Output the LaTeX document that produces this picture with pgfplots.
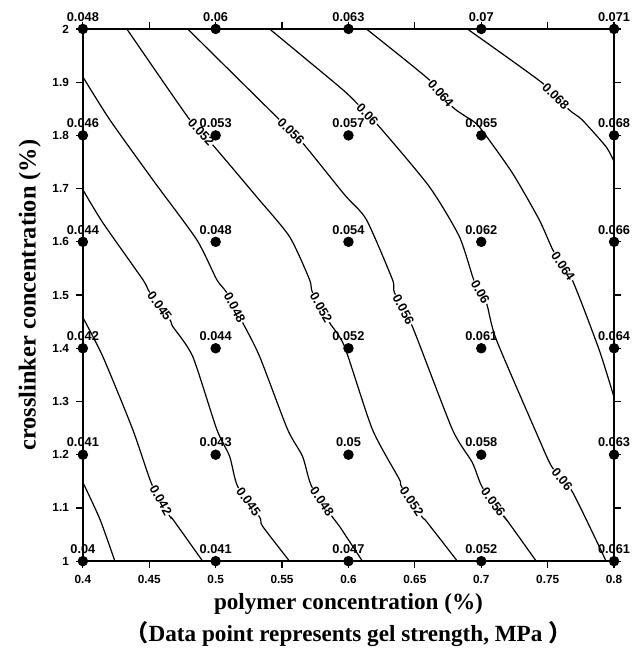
\documentclass[border=0pt]{standalone}
\usepackage{fontspec}
\setmainfont{Liberation Serif}
\setsansfont{Liberation Sans}
\newfontfamily\cjk{Noto Sans CJK SC}
\usepackage{pgfplots}
\pgfplotsset{compat=1.18}
\newcommand{\tickfont}{\sffamily\bfseries\fontsize{5.9}{6}\selectfont}
\newcommand{\lblfont}{\sffamily\bfseries\fontsize{6.4}{7}\selectfont}
\newcommand{\axfont}{\bfseries\fontsize{11.6}{13}\selectfont}
\newcommand{\yaxfont}{\bfseries\fontsize{12.2}{13}\selectfont}

\pgfplotstableread{
x y label
0.4 2.0 0.048
0.5 2.0 0.06
0.6 2.0 0.063
0.7 2.0 0.07
0.8 2.0 0.071
0.4 1.8 0.046
0.5 1.8 0.053
0.6 1.8 0.057
0.7 1.8 0.065
0.8 1.8 0.068
0.4 1.6 0.044
0.5 1.6 0.048
0.6 1.6 0.054
0.7 1.6 0.062
0.8 1.6 0.066
0.4 1.4 0.042
0.5 1.4 0.044
0.6 1.4 0.052
0.7 1.4 0.061
0.8 1.4 0.064
0.4 1.2 0.041
0.5 1.2 0.043
0.6 1.2 0.05
0.7 1.2 0.058
0.8 1.2 0.063
0.4 1.0 0.04
0.5 1.0 0.041
0.6 1.0 0.047
0.7 1.0 0.052
0.8 1.0 0.061
}\gelpoints

\begin{document}
\begin{tikzpicture}
\begin{axis}[name=ax, scale only axis, width=266pt, height=266.5pt,
  xmin=0.4, xmax=0.8, ymin=1, ymax=2,
  xtick={0.4,0.45,0.5,0.55,0.6,0.65,0.7,0.75,0.8},
  xticklabels={0.4,0.45,0.5,0.55,0.6,0.65,0.7,0.75,0.8},
  ytick={1,1.1,1.2,1.3,1.4,1.5,1.6,1.7,1.8,1.9,2},
  yticklabels={1,1.1,1.2,1.3,1.4,1.5,1.6,1.7,1.8,1.9,2},
  tick align=outside, tick pos=both, major tick length=3.5pt,
  tick style={black, line width=0.6pt},
  axis line style={line width=1pt},
  ticklabel style={font=\tickfont},
  /pgf/number format/assume math mode=true,
  clip=false,
  xlabel={polymer concentration (\%)\\[3pt]{\cjk （}Data point represents gel strength, MPa {\cjk ）}},
  xlabel style={font=\axfont, align=center, anchor=center, at={(axis description cs:0.5,-0.11)}},
  ylabel={crosslinker concentration (\%)},
  ylabel style={font=\yaxfont, anchor=center, at={(axis description cs:-0.1,0.5)}},
]
% contour lines
\pgfplotsset{cline/.style={black, line width=0.6pt, smooth, tension=0.4}}
\addplot[cline] coordinates {(0.4,1.148) (0.4128,1.079) (0.4241,1.0)};
\addplot[cline] coordinates {(0.4,1.4578) (0.415,1.3846) (0.4375,1.2477) (0.4519,1.1445) (0.4654,1.0844) (0.4677,1.0788) (0.4902,1.0)};
\addplot[cline] coordinates {(0.4,1.6979) (0.415,1.636) (0.4451,1.5291) (0.4504,1.5047) (0.4654,1.454) (0.4677,1.4409) (0.4827,1.3846) (0.5008,1.2477) (0.5105,1.197) (0.5165,1.1407) (0.5331,1.0826) (0.5353,1.0657) (0.5556,1.0)};
\addplot[cline] coordinates {(0.4,1.91) (0.4203,1.8293) (0.4526,1.7167) (0.4857,1.6041) (0.5008,1.5291) (0.5083,1.5047) (0.5203,1.4484) (0.5331,1.3846) (0.5541,1.2477) (0.5654,1.197) (0.5722,1.1407) (0.588,1.0826) (0.5932,1.0657) (0.6105,1.0)};
\addplot[cline] coordinates {(0.4331,2.0) (0.4805,1.8293) (0.4977,1.7824) (0.5308,1.6848) (0.5556,1.6098) (0.5707,1.5291) (0.5729,1.5047) (0.5857,1.4484) (0.597,1.4034) (0.618,1.2477) (0.6383,1.1538) (0.6398,1.1407) (0.6556,1.0826) (0.6586,1.075) (0.682,1.0)};
\addplot[cline] coordinates {(0.4789,2.0) (0.5481,1.8293) (0.5654,1.7861) (0.597,1.6886) (0.6135,1.6417) (0.6331,1.5291) (0.6346,1.5047) (0.6481,1.4409) (0.6782,1.2477) (0.6932,1.1857) (0.7008,1.1388) (0.7173,1.0826) (0.7188,1.0788) (0.7414,1.0)};
\addplot[cline] coordinates {(0.5406,2.0) (0.5932,1.8912) (0.6053,1.863) (0.6233,1.8161) (0.6609,1.7036) (0.6835,1.6098) (0.6948,1.5253) (0.7038,1.4859) (0.7113,1.4165) (0.7436,1.2289) (0.7534,1.1763) (0.7684,1.1313) (0.794,1.0)};
\addplot[cline] coordinates {(0.6135,2.0) (0.6609,1.9043) (0.6782,1.8537) (0.6887,1.8349) (0.6985,1.8161) (0.7233,1.7298) (0.7436,1.6417) (0.7549,1.5797) (0.7684,1.5291) (0.7887,1.3977) (0.8,1.3077)};
\addplot[cline] coordinates {(0.6895,2.0) (0.7459,1.8987) (0.7662,1.848) (0.7759,1.8293) (0.794,1.7786) (0.8,1.7505)};
% contour labels
\tikzset{clab/.style={pos=0.5, sloped, fill=white, inner sep=0.4pt, font=\lblfont}}
\addplot[draw=none] coordinates {(0.4519,1.1445) (0.4654,1.0844)} node[clab]{0.042};
\addplot[draw=none] coordinates {(0.4504,1.5047) (0.4654,1.454)} node[clab]{0.045};
\addplot[draw=none] coordinates {(0.5165,1.1407) (0.5331,1.0826)} node[clab]{0.045};
\addplot[draw=none] coordinates {(0.5083,1.5047) (0.5203,1.4484)} node[clab]{0.048};
\addplot[draw=none] coordinates {(0.5722,1.1407) (0.588,1.0826)} node[clab]{0.048};
\addplot[draw=none] coordinates {(0.4805,1.8293) (0.4977,1.7824)} node[clab]{0.052};
\addplot[draw=none] coordinates {(0.5729,1.5047) (0.5857,1.4484)} node[clab]{0.052};
\addplot[draw=none] coordinates {(0.6398,1.1407) (0.6556,1.0826)} node[clab]{0.052};
\addplot[draw=none] coordinates {(0.5481,1.8293) (0.5654,1.7861)} node[clab]{0.056};
\addplot[draw=none] coordinates {(0.6346,1.5047) (0.6481,1.4409)} node[clab]{0.056};
\addplot[draw=none] coordinates {(0.7008,1.1388) (0.7173,1.0826)} node[clab]{0.056};
\addplot[draw=none] coordinates {(0.6053,1.863) (0.6233,1.8161)} node[clab]{0.06};
\addplot[draw=none] coordinates {(0.6948,1.5253) (0.7038,1.4859)} node[clab]{0.06};
\addplot[draw=none] coordinates {(0.7534,1.1763) (0.7684,1.1313)} node[clab]{0.06};
\addplot[draw=none] coordinates {(0.6609,1.9043) (0.6782,1.8537)} node[clab]{0.064};
\addplot[draw=none] coordinates {(0.7549,1.5797) (0.7684,1.5291)} node[clab]{0.064};
\addplot[draw=none] coordinates {(0.7459,1.8987) (0.7662,1.848)} node[clab]{0.068};
% data points
\addplot[only marks, mark=*, mark size=2.4pt, black,
  nodes near coords, point meta=explicit symbolic,
  nodes near coords style={font=\lblfont, inner sep=0pt, yshift=3.6pt, text=black}]
  table[x=x, y=y, meta=label]{\gelpoints};
\end{axis}
\pgfresetboundingbox
\path ([shift={(-41.5pt,-48.5pt)}]ax.south west) rectangle ([shift={(9.5pt,14.5pt)}]ax.north east);
\end{tikzpicture}
\end{document}
